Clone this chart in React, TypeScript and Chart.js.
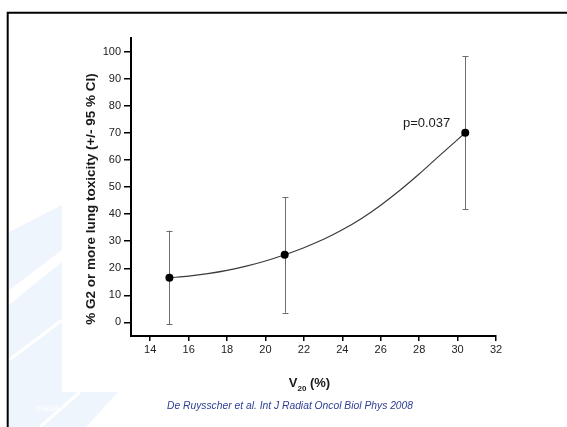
import React, { useEffect, useRef } from "react";
import { Chart, registerables } from "chart.js";

Chart.register(...registerables);

// ---------- data ----------
const xTicks = [14, 16, 18, 20, 22, 24, 26, 28, 30, 32];
const yTicks = [0, 10, 20, 30, 40, 50, 60, 70, 80, 90, 100];

const v20 = [15, 21, 30.4];
const toxicity = [16.5, 25, 70];
const ciLow = [-0.6, 3.6, 41.7];
const ciHigh = [33.9, 46.2, 98.2];

const fitV20 = [15, 16, 17, 18, 19, 20, 21, 22, 23, 24, 25, 26, 27, 28, 29, 30, 30.4];
const fitTox = [16.5, 17.1, 18.0, 19.2, 20.8, 22.7, 25.0, 27.6, 30.6, 34.2, 38.4, 43.3, 48.8, 54.8, 61.2, 67.5, 70.0];

const pLabel = "p=0.037";
const xTitleMain = "V";
const xTitleSub = "20";
const xTitleRest = " (%)";
const yTitle = "% G2 or more lung toxicity (+/- 95 % CI)";
const citation = "De Ruysscher et al. Int J Radiat Oncol Biol Phys 2008";
const watermarkWord = "maart";

const FONT = '"Liberation Sans", Arial, Helvetica, sans-serif';

const decorPlugin = {
  id: "decor",
  beforeDraw(chart: any) {
    const ctx = chart.ctx as CanvasRenderingContext2D;
    ctx.save();
    ctx.fillStyle = "#ffffff";
    ctx.fillRect(0, 0, chart.width, chart.height);

    // faint light-blue background watermark (slide template)
    ctx.fillStyle = "#eef5fc";
    ctx.beginPath();
    ctx.moveTo(9, 232);
    ctx.lineTo(62, 205);
    ctx.lineTo(62, 250);
    ctx.lineTo(9, 290);
    ctx.closePath();
    ctx.fill();
    ctx.beginPath();
    ctx.moveTo(9, 305);
    ctx.lineTo(62, 262);
    ctx.lineTo(62, 392);
    ctx.lineTo(118, 392);
    ctx.lineTo(86, 427);
    ctx.lineTo(9, 427);
    ctx.closePath();
    ctx.fill();
    ctx.strokeStyle = "#ffffff";
    ctx.lineWidth = 3;
    ctx.beginPath();
    ctx.moveTo(9, 360);
    ctx.lineTo(62, 320);
    ctx.moveTo(40, 427);
    ctx.lineTo(80, 392);
    ctx.stroke();

    ctx.fillStyle = "#ffffff";
    ctx.font = `9px ${FONT}`;
    ctx.textAlign = "left";
    ctx.textBaseline = "middle";
    ctx.fillText(watermarkWord, 36, 409);

    // white picture area
    ctx.fillStyle = "#ffffff";
    ctx.fillRect(62, 14, 505, 378);

    // slide frame
    ctx.strokeStyle = "#000000";
    ctx.lineWidth = 2;
    ctx.beginPath();
    ctx.moveTo(7.7, 440);
    ctx.lineTo(7.7, 12.7);
    ctx.lineTo(580, 12.7);
    ctx.stroke();
    ctx.restore();
  },
  beforeDatasetsDraw(chart: any) {
    const ctx = chart.ctx as CanvasRenderingContext2D;
    const xs = chart.scales.x;
    const ys = chart.scales.y;
    ctx.save();
    ctx.strokeStyle = "#6e6e6e";
    ctx.lineWidth = 1;
    for (let i = 0; i < v20.length; i++) {
      const px = Math.round(xs.getPixelForValue(v20[i])) + 0.5;
      const top = ys.getPixelForValue(ciHigh[i]);
      const bot = ys.getPixelForValue(ciLow[i]);
      ctx.beginPath();
      ctx.moveTo(px, top);
      ctx.lineTo(px, bot);
      ctx.moveTo(px - 3, Math.round(top) + 0.5);
      ctx.lineTo(px + 3, Math.round(top) + 0.5);
      ctx.moveTo(px - 3, Math.round(bot) + 0.5);
      ctx.lineTo(px + 3, Math.round(bot) + 0.5);
      ctx.stroke();
    }
    ctx.restore();
  },
  afterDraw(chart: any) {
    const ctx = chart.ctx as CanvasRenderingContext2D;
    const xs = chart.scales.x;
    const ys = chart.scales.y;
    const area = chart.chartArea;
    ctx.save();
    ctx.fillStyle = "#1a1a1a";

    // p-value label next to the last point
    const last = v20.length - 1;
    ctx.font = `13px ${FONT}`;
    ctx.textAlign = "right";
    ctx.textBaseline = "middle";
    ctx.fillText(pLabel, xs.getPixelForValue(v20[last]) - 15, ys.getPixelForValue(toxicity[last]) - 9);

    // x title with subscript
    const cx = (xs.getPixelForValue(xs.min) + xs.getPixelForValue(xs.max)) / 2 - 4;
    const baseY = area.bottom + 51;
    ctx.textAlign = "left";
    ctx.textBaseline = "alphabetic";
    ctx.font = `bold 13px ${FONT}`;
    const wV = ctx.measureText(xTitleMain).width;
    const wR = ctx.measureText(xTitleRest).width;
    ctx.font = `bold 8px ${FONT}`;
    const wS = ctx.measureText(xTitleSub).width;
    let x0 = cx - (wV + wS + wR) / 2;
    ctx.font = `bold 13px ${FONT}`;
    ctx.fillText(xTitleMain, x0, baseY);
    x0 += wV;
    ctx.font = `bold 8px ${FONT}`;
    ctx.fillText(xTitleSub, x0, baseY + 4);
    x0 += wS;
    ctx.font = `bold 13px ${FONT}`;
    ctx.fillText(xTitleRest, x0, baseY);

    // y title
    ctx.save();
    ctx.translate(91, 199);
    ctx.rotate(-Math.PI / 2);
    ctx.font = `bold 13.5px ${FONT}`;
    ctx.textAlign = "center";
    ctx.textBaseline = "middle";
    ctx.fillText(yTitle, 0, 0);
    ctx.restore();

    // citation
    ctx.fillStyle = "#2e3d94";
    ctx.font = `italic 10.3px ${FONT}`;
    ctx.textAlign = "center";
    ctx.textBaseline = "middle";
    ctx.fillText(citation, 290, 406);
    ctx.restore();
  },
};

export default function App() {
  const canvasRef = useRef<HTMLCanvasElement | null>(null);

  useEffect(() => {
    const canvas = canvasRef.current;
    if (!canvas) return;
    const chart = new Chart(canvas, {
      type: "scatter",
      data: {
        datasets: [
          {
            type: "line",
            label: "fit",
            data: fitV20.map((x, i) => ({ x, y: fitTox[i] })),
            borderColor: "#3a3a3a",
            borderWidth: 1.2,
            pointRadius: 0,
            fill: false,
            cubicInterpolationMode: "monotone",
            order: 2,
          } as any,
          {
            type: "scatter",
            label: "observed",
            data: v20.map((x, i) => ({ x, y: toxicity[i] })),
            backgroundColor: "#000000",
            borderColor: "#000000",
            pointRadius: 4,
            pointBorderWidth: 0,
            order: 1,
          } as any,
        ],
      },
      options: {
        animation: false,
        responsive: false,
        layout: { padding: { left: 0, top: 38, right: 71, bottom: 0 } },
        plugins: { legend: { display: false }, tooltip: { enabled: false } },
        scales: {
          x: {
            type: "linear",
            min: 13,
            max: 32,
            afterBuildTicks: (scale: any) => {
              scale.ticks = xTicks.map((v) => ({ value: v }));
            },
            afterFit: (scale: any) => {
              scale.height = 91;
            },
            ticks: {
              color: "#222",
              font: { family: FONT, size: 11 },
              padding: 2,
              maxRotation: 0,
              autoSkip: false,
            },
            grid: {
              drawOnChartArea: false,
              drawTicks: true,
              tickLength: 5,
              color: "#000",
              lineWidth: 1.5,
            },
            border: { display: true, color: "#000", width: 2 },
          },
          y: {
            type: "linear",
            min: -5,
            max: 105,
            afterBuildTicks: (scale: any) => {
              scale.ticks = yTicks.map((v) => ({ value: v }));
            },
            afterFit: (scale: any) => {
              scale.width = 131;
            },
            ticks: {
              color: "#222",
              font: { family: FONT, size: 11 },
              padding: 3,
              autoSkip: false,
            },
            grid: {
              drawOnChartArea: false,
              drawTicks: true,
              tickLength: 7,
              color: "#000",
              lineWidth: 1.5,
            },
            border: { display: true, color: "#000", width: 2 },
          },
        },
      },
      plugins: [decorPlugin],
    });
    return () => chart.destroy();
  }, []);

  return (
    <div style={{ position: "fixed", left: 0, top: 0, width: 567, height: 427, background: "#fff" }}>
      <canvas ref={canvasRef} width={567} height={427} style={{ display: "block" }} />
    </div>
  );
}
